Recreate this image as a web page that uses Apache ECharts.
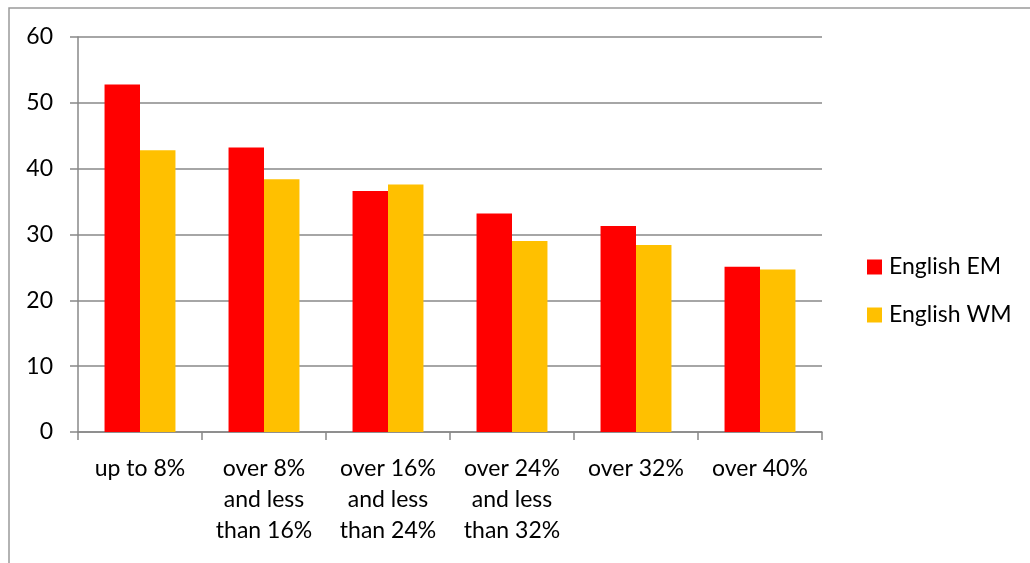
<!DOCTYPE html>
<html>
<head>
<meta charset="utf-8">
<script src="https://cdn.jsdelivr.net/npm/echarts@6/dist/echarts.min.js"></script>
<style>html,body{margin:0;padding:0;background:#fff}#c{width:1030px;height:563px}</style>
</head>
<body>
<div id="c"></div>
<script>
const categories = ["up to 8%", "over 8%\nand less\nthan 16%", "over 16%\nand less\nthan 24%", "over 24%\nand less\nthan 32%", "over 32%", "over 40%"];
const englishEM = [52.8, 43.2, 36.6, 33.2, 31.3, 25.1];
const englishWM = [42.8, 38.4, 37.6, 29.0, 28.4, 24.7];
const seriesNames = ["English EM", "English WM"];

const chart = echarts.init(document.getElementById('c'), null, {renderer: 'canvas'});
const font = 'Lato, "Open Sans", sans-serif';
const gray = '#888888';
chart.setOption({
  animation: false,
  textStyle: {fontFamily: font},
  graphic: [{
    type: 'rect', silent: true, z: -1,
    shape: {x: 9, y: 8, width: 1200, height: 700},
    style: {fill: 'none', stroke: '#9a9a9a', lineWidth: 1.5}
  }],
  grid: {left: 78, right: 208, top: 37, bottom: 131, containLabel: false},
  legend: {
    orient: 'vertical', left: 862, top: 250,
    itemWidth: 15, itemHeight: 15, itemGap: 24,
    icon: 'rect',
    textStyle: {fontSize: 23, lineHeight: 24, color: '#000', fontFamily: font, padding: [0, 0, 0, 2]},
    data: seriesNames
  },
  xAxis: {
    type: 'category', data: categories,
    axisLine: {lineStyle: {color: gray, width: 1.5}},
    axisTick: {show: true, length: 8, lineStyle: {color: gray, width: 1.5}},
    axisLabel: {fontSize: 23, color: '#000', lineHeight: 31, margin: 21, interval: 0, fontFamily: font}
  },
  yAxis: {
    type: 'value', min: 0, max: 60, interval: 10,
    axisLine: {show: true, lineStyle: {color: gray, width: 1.5}},
    axisTick: {show: true, length: 8, lineStyle: {color: gray, width: 1.5}},
    splitLine: {lineStyle: {color: gray, width: 1.5}},
    axisLabel: {fontSize: 23, color: '#000', margin: 25, fontFamily: font}
  },
  series: [
    {name: seriesNames[0], type: 'bar', data: englishEM, barWidth: '28.6%', barGap: '0%', itemStyle: {color: '#FF0000'}},
    {name: seriesNames[1], type: 'bar', data: englishWM, barWidth: '28.6%', itemStyle: {color: '#FFC000'}}
  ]
});
</script>
</body>
</html>
